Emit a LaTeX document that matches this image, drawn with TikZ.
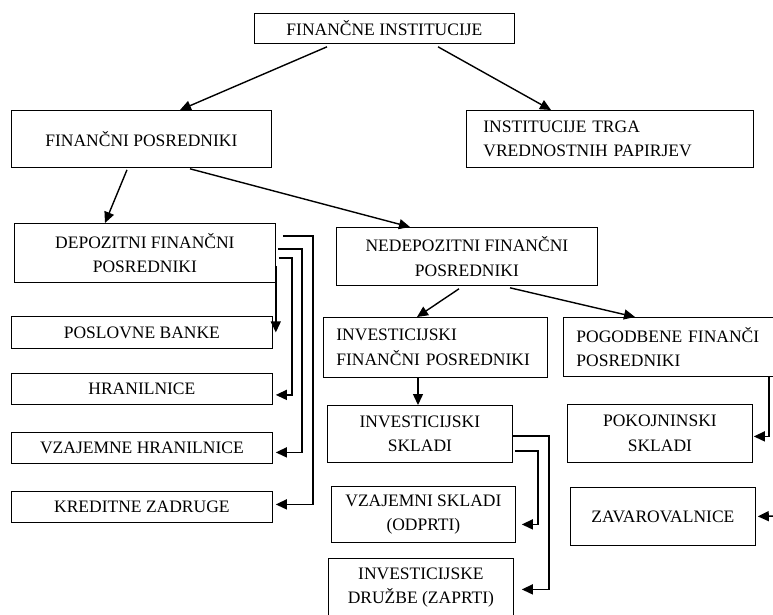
\documentclass[tikz,border=0pt]{standalone}
\usepackage{fontspec}
\setmainfont{Liberation Serif}
\usetikzlibrary{arrows.meta}

\begin{document}
\begin{tikzpicture}[x=1pt,y=-1pt,
		box/.style={draw, line width=0.8pt, inner sep=0pt, anchor=north west, align=center,
			font=\fontsize{17.5}{24.5}\selectfont},
		lbox/.style={box, align=left, inner xsep=13pt},
		arr/.style={line width=1.4pt, -{Triangle[length=11pt,width=10pt]}}]
		\useasboundingbox (0,0) rectangle (773,614);
		% top levels
		\node[box, minimum width=260, minimum height=30] (fi) at (254,13) {FINANČNE INSTITUCIJE};
		\node[box, minimum width=260, minimum height=57] (fp) at (11,110) {FINANČNI POSREDNIKI};
		\node[lbox, inner xsep=17pt, text width=253, minimum height=57] (itvp) at (466,110) {INSTITUCIJE TRGA\\VREDNOSTNIH PAPIRJEV};
		\node[box, minimum width=261, minimum height=59] (dfp) at (14,223) {DEPOZITNI FINANČNI\\POSREDNIKI};
		\node[box, minimum width=261, minimum height=58] (nfp) at (336,227) {NEDEPOZITNI FINANČNI\\POSREDNIKI};
		% depozitni
		\node[box, minimum width=261, minimum height=32] (pb) at (11,316) {POSLOVNE BANKE};
		\node[box, minimum width=261, minimum height=31] (hr) at (11,373) {HRANILNICE};
		\node[box, minimum width=261, minimum height=31] (vh) at (11,432) {VZAJEMNE HRANILNICE};
		\node[box, minimum width=261, minimum height=31] (kz) at (11,491) {KREDITNE ZADRUGE};
		% nedepozitni
		\node[lbox, text width=198, minimum height=60] (ifp) at (323,317) {INVESTICIJSKI\\FINANČNI~POSREDNIKI};
		\node[lbox, text width=183.5, minimum height=59] (pfp) at (563,317) {POGODBENE~FINANČI\\POSREDNIKI};
		\node[box, minimum width=185, minimum height=57] (is) at (327,405) {INVESTICIJSKI\\SKLADI};
		\node[box, minimum width=184, minimum height=56] (vs) at (331,486) {VZAJEMNI SKLADI\\(ODPRTI)};
		\node[box, minimum width=185, minimum height=58] (id) at (328,558) {INVESTICIJSKE\\DRUŽBE (ZAPRTI)};
		\node[box, minimum width=185, minimum height=58] (ps) at (567,404) {POKOJNINSKI\\SKLADI};
		\node[box, minimum width=185, minimum height=58] (zav) at (570,487) {ZAVAROVALNICE};
		\coordinate (zin) at (776,516);
		% slanted arrows
		\draw[arr] ([xshift=73pt,yshift=-3pt]fi.south west) -- ([xshift=169pt]fp.north west);
		\draw[arr] ([xshift=184pt,yshift=-3pt]fi.south west) -- ([xshift=85pt]itvp.north west);
		\draw[arr] ([xshift=116pt,yshift=-2pt]fp.south west) -- ([xshift=91pt]dfp.north west);
		\draw[arr] ([xshift=179pt,yshift=-1pt]fp.south west) -- ([xshift=74pt]nfp.north west);
		\draw[arr] ([xshift=123pt,yshift=-3pt]nfp.south west) -- ([xshift=94pt]ifp.north west);
		\draw[arr] ([xshift=174pt,yshift=-2pt]nfp.south west) -- ([xshift=72pt]pfp.north west);
		\draw[arr] ([xshift=95pt]ifp.south west) -- ([xshift=91pt]is.north west);
		% brackets
		\draw[arr] ([yshift=17pt]dfp.south east) -- (dfp.south east |- pb.east);
		\draw[arr] ([xshift=3pt,yshift=25pt]dfp.south east) -- ++(13,0) |- ([xshift=3pt,yshift=-6pt]hr.east);
		\draw[arr] ([xshift=2pt,yshift=34pt]dfp.south east) -- ++(24,0) |- ([xshift=3pt,yshift=-4.5pt]vh.east);
		\draw[arr] ([xshift=7pt,yshift=47pt]dfp.south east) -- ++(30,0) |- ([xshift=3pt,yshift=2.5pt]kz.east);
		\draw[arr] ([xshift=2pt,yshift=12pt]is.south east) -- ++(23,0) |- ([xshift=6pt,yshift=-10pt]vs.east);
		\draw[arr] ([yshift=27pt]is.south east) -- ++(36,0) |- ([xshift=8pt,yshift=-2pt]id.east);
		\draw[arr] ([xshift=-4.5pt]pfp.south east) |- ([xshift=1pt,yshift=-3pt]ps.east);
		\draw[arr] (zin) -- ([xshift=2pt]zav.east);
\end{tikzpicture}
\end{document}
